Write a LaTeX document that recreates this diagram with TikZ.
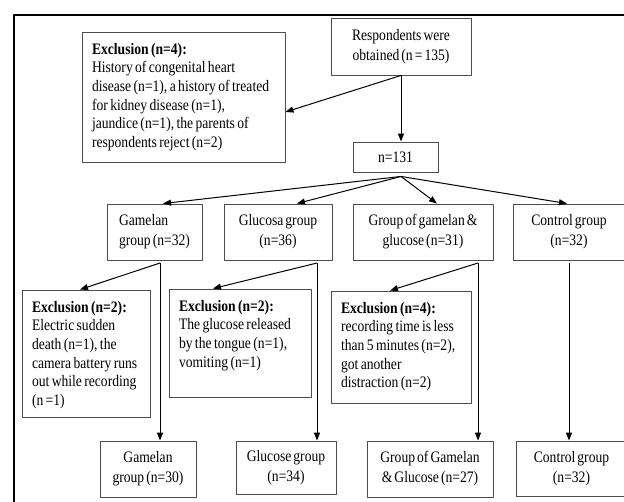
\documentclass[tikz,border=0pt]{standalone}
\usepackage{fontspec}
\setmainfont{Liberation Serif}[FakeStretch=0.85, WordSpace=0.6]
\usetikzlibrary{arrows.meta}

\definecolor{boxgray}{gray}{0.3}
% Lines of an exclusion box, set without wrapping.
\newcommand{\exlines}[1]{\spaceskip=0.15em\relax\begin{tabular}[t]{@{}l@{}}#1\end{tabular}}

\begin{document}
\begin{tikzpicture}[x=1pt, y=-1pt, line join=round,
    grp/.style={draw=boxgray, line width=0.9pt, inner sep=0pt, align=center,
      font=\fontsize{16}{20}\selectfont},
    excl/.style={draw=boxgray, line width=0.9pt, inner xsep=10pt, inner ysep=0pt,
      align=left, text height=22pt, font=\fontsize{16}{18.7}\selectfont},
    link/.style={line width=1pt, -{Triangle[length=8pt,width=6pt]}}]
  \useasboundingbox (0,0) rectangle (624,501);
  % Outer frame, cut by the page edge.
  \draw[line width=2pt] (14,505) -- (14,15) -- (628,15);
  % Start of the study.
  \node[grp, minimum width=140pt, minimum height=57pt] (resp) at (401,46.5)
    {Respondents were\\obtained (n = 135)};
  \node[excl, text width=183pt, text depth=108pt] (exTop) at (183.5,97)
    {\exlines{\textbf{Exclusion (n=4):}\\History of congenital heart\\disease (n=1), a history of treated\\for kidney disease (n=1),\\jaundice (n=1), the parents of\\respondents reject (n=2)}};
  \node[grp, minimum width=85pt, minimum height=30pt] (n131) at (395.5,157) {n=131};
  % The four groups.
  \node[grp, align=left, minimum width=95pt, minimum height=56pt] (gGam) at (154.5,232)
    {Gamelan\\group (n=32)};
  \node[grp, minimum width=108pt, minimum height=56pt] (gGlu) at (278,232)
    {Glucosa group\\(n=36)};
  \node[grp, minimum width=140pt, minimum height=56pt] (gGG) at (423,232)
    {Group of gamelan \&\\glucose (n=31)};
  \node[grp, minimum width=112pt, minimum height=56pt] (gCon) at (569,232)
    {Control group\\(n=32)};
  % Exclusions inside the groups.
  \node[excl, text width=108pt, text depth=105pt] (exGam) at (86,353.5)
    {\exlines{\textbf{Exclusion (n=2):}\\Electric sudden\\death (n=1), the\\camera battery runs\\out while recording\\(n =1)}};
  \node[excl, text width=122pt, text depth=86pt] (exGlu) at (240,343)
    {\exlines{\textbf{Exclusion (n=2):}\\The glucose released\\by the tongue (n=1),\\vomiting (n=1)}};
  \node[excl, text width=120pt, text depth=90pt] (exGG) at (401,347)
    {\exlines{\textbf{Exclusion (n=4):}\\recording time is less\\than 5 minutes (n=2),\\got another\\distraction (n=2)}};
  % Final groups.
  \node[grp, minimum width=96pt, minimum height=56pt] (fGam) at (148,469)
    {Gamelan\\group (n=30)};
  \node[grp, minimum width=100pt, minimum height=53pt] (fGlu) at (286,467.5)
    {Glucose group\\(n=34)};
  \node[grp, minimum width=126pt, minimum height=56pt] (fGG) at (430,469)
    {Group of Gamelan\\\& Glucose (n=27)};
  \node[grp, minimum width=110pt, minimum height=55pt] (fCon) at (571.5,468.5)
    {Control group\\(n=32)};
  % Connectors.
  \draw[link] (resp.south) -- (resp.south |- n131.north);
  \draw[link] (resp.south) -- ([yshift=-15pt]exTop.east);
  \coordinate (fan) at ([xshift=5.5pt,yshift=-4pt]n131.south);
  \draw[link] (fan) -- ([xshift=8.5pt]gGam.north);
  \draw[link] (fan) -- ([xshift=19pt]gGlu.north);
  \draw[link] (fan) -- ([xshift=14pt]gGG.north);
  \draw[link] (fan) -- ([xshift=-2pt]gCon.north);
  \coordinate (sGam) at (160,263);
  \coordinate (sGlu) at (317,263);
  \coordinate (sGG) at (478,263);
  \coordinate (sCon) at (569,263);
  \draw[link] (sGam) -- ([xshift=-6pt]exGam.north);
  \draw[link] (sGam) -- (sGam |- fGam.north);
  \draw[link] (sGlu) -- ([xshift=-27pt]exGlu.north);
  \draw[link] (sGlu) -- (sGlu |- fGlu.north);
  \draw[link] (sGG) -- ([xshift=-11pt]exGG.north);
  \draw[link] (sGG) -- (sGG |- fGG.north);
  \draw[link] (sCon) -- (sCon |- fCon.north);
\end{tikzpicture}
\end{document}
